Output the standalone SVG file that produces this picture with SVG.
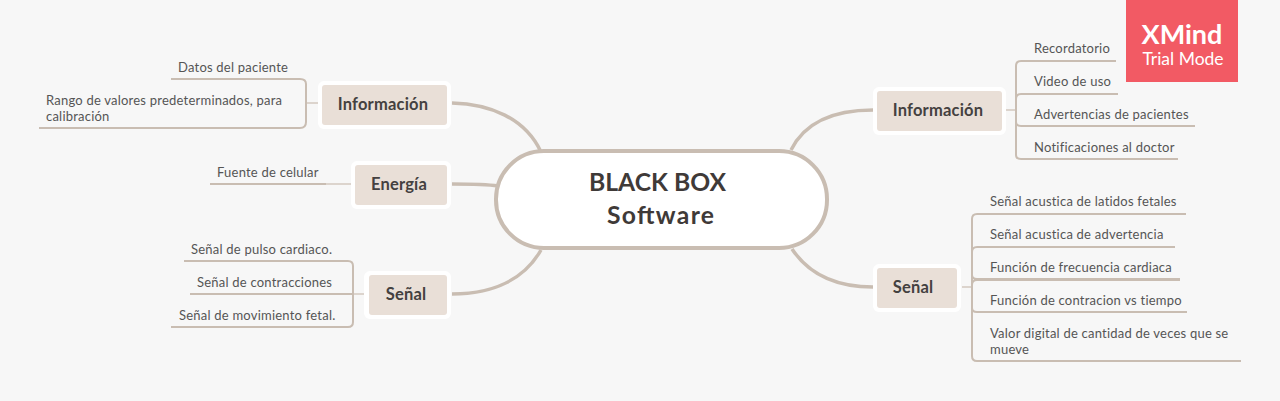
<svg xmlns="http://www.w3.org/2000/svg" width="1280" height="401" viewBox="0 0 1280 401">
<style>
text{font-family:"Lato","Open Sans","Liberation Sans",sans-serif;fill:#555}
.t{font-size:13px;letter-spacing:.22px}
.m{font-size:16.5px;font-weight:700;fill:#444140;letter-spacing:.2px}
.h{font-size:24.7px;font-weight:700;fill:#3f3a38}
.w{fill:#fff;rx:6px}
.b{fill:#e9dfd7;rx:3px}
.c{fill:none;stroke:#c9bdb2;stroke-width:3.5px}
.s{fill:none;stroke:#c9bdb2;stroke-width:2px}
.f{fill:none;stroke:#d3c9c0;stroke-width:1.5px}
</style>
<rect width="1280" height="401" fill="#f7f7f7"/>
<g id="connectors">
<path class="c" d="M452 103C490 104 525 118 541 152"/>
<path class="c" d="M452 184C470 184 485 184 498 186"/>
<path class="c" d="M452 294C495 294 525 278 541 250"/>
<path class="c" d="M873 110C835 110 805 122 791 150"/>
<path class="c" d="M873 287C835 287 808 273 792 249"/>
<path class="f" d="M306 103H319M326 184H353M353 294H364M1005 110H1015M962 287H972"/>
<path class="s" d="M171 79H300Q306 79 306 84V122Q306 128 300 128H39"/>
<path class="s" d="M210 184H326"/>
<path class="s" d="M184 261H348Q353 261 353 266V322Q353 327 348 327H171M190 294H353"/>
<path class="s" d="M1116 61H1021Q1016 61 1016 66V155Q1016 159 1021 159H1178M1118 94H1021Q1016 94 1016 99V122Q1016 126 1021 126H1195"/>
<path class="s" d="M1186 214H977Q972 214 972 219V356Q972 361 977 361H1241M1175 247H977Q972 247 972 252V275Q972 279 977 279H1180M1180 280H977Q972 280 972 285V308Q972 312 977 312H1187"/>
</g>
<g id="center"><rect x="496" y="151" width="331" height="97" rx="48" fill="#fff" stroke="#c9bdb2" stroke-width="4"/>
<text class="h" x="589" y="191" textLength="137">BLACK BOX</text>
<text class="h" x="607" y="224" textLength="107">Software</text></g>
<g id="l-info"><rect class="w" x="318" y="81" width="133" height="48"/><rect class="b" x="322" y="85" width="125" height="40"/><text class="m" x="383" y="110" text-anchor="middle">Información</text></g>
<g id="l-energia"><rect class="w" x="351" y="161" width="100" height="48"/><rect class="b" x="355" y="165" width="92" height="40"/><text class="m" x="399" y="190" text-anchor="middle">Energía</text></g>
<g id="l-senal"><rect class="w" x="364" y="271" width="87" height="48"/><rect class="b" x="369" y="275" width="78" height="40"/><text class="m" x="406" y="300" text-anchor="middle">Señal</text></g>
<g id="r-info"><rect class="w" x="873" y="87" width="133" height="48"/><rect class="b" x="877" y="91" width="125" height="40"/><text class="m" x="938" y="116" text-anchor="middle">Información</text></g>
<g id="r-senal"><rect class="w" x="873" y="264" width="88" height="48"/><rect class="b" x="877" y="268" width="80" height="40"/><text class="m" x="913" y="293" text-anchor="middle">Señal</text></g>
<g id="topics-left">
<text class="t" x="178" y="72">Datos del paciente</text>
<text class="t" x="46" y="105">Rango de valores predeterminados, para</text>
<text class="t" x="46" y="121">calibración</text>
<text class="t" x="217" y="177">Fuente de celular</text>
<text class="t" x="191" y="254">Señal de pulso cardiaco.</text>
<text class="t" x="197" y="287">Señal de contracciones</text>
<text class="t" x="179" y="320">Señal de movimiento fetal.</text>
</g>
<g id="topics-right">
<text class="t" x="1034" y="53">Recordatorio</text>
<text class="t" x="1034" y="86">Video de uso</text>
<text class="t" x="1034" y="119">Advertencias de pacientes</text>
<text class="t" x="1034" y="152">Notificaciones al doctor</text>
<text class="t" x="990" y="206">Señal acustica de latidos fetales</text>
<text class="t" x="990" y="239">Señal acustica de advertencia</text>
<text class="t" x="990" y="272">Función de frecuencia cardiaca</text>
<text class="t" x="990" y="305">Función de contracion vs tiempo</text>
<text class="t" x="990" y="338">Valor digital de cantidad de veces que se</text>
<text class="t" x="990" y="354">mueve</text>
</g>
<g id="watermark"><rect x="1126" y="0" width="112" height="82" fill="#f25a64"/>
<text x="1182" y="44" text-anchor="middle" style="font-size:27px;font-weight:700;fill:#fff">XMind</text>
<text x="1183" y="65" text-anchor="middle" style="font-size:17.5px;fill:#fff">Trial Mode</text></g>
</svg>
